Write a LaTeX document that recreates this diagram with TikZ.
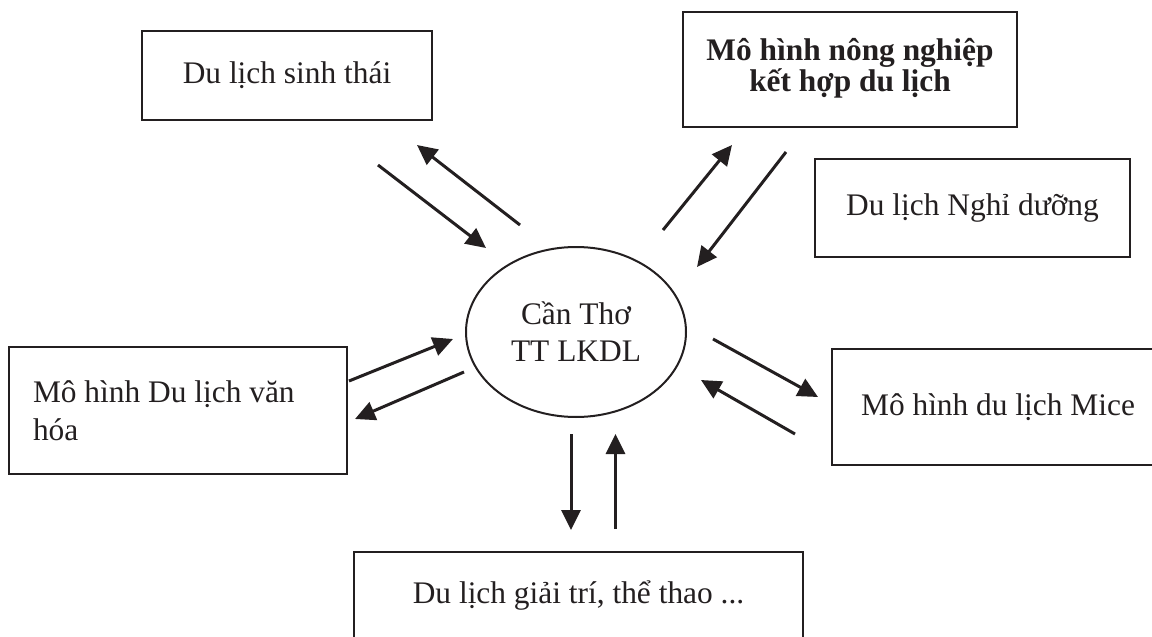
\documentclass[tikz,border=0pt]{standalone}
\usepackage{fontspec}
\setmainfont{Liberation Serif}
\usepackage{xcolor}
\usepackage{tikz}
\usetikzlibrary{arrows.meta, shapes.geometric}

\definecolor{ink}{HTML}{231F20}
\tikzset{
  box/.style={draw=ink, line width=1.3pt, text=ink, inner sep=0pt, align=center,
    font=\fontsize{15.7}{18.5}\selectfont},
  link/.style={draw=ink, line width=1.5pt, -{Triangle[length=10pt,width=9.5pt]}}
}

\begin{document}
\begin{tikzpicture}[x=0.5pt, y=-0.5pt]
\clip (0,0) rectangle (1152,637);

\node[box, minimum width=145pt, minimum height=44.5pt] (sinhthai) at (287,75.5) {Du lịch sinh thái};
\node[box, minimum width=167pt, minimum height=57.5pt, font=\fontsize{15.7}{16.5}\selectfont\bfseries] (nongnghiep) at (850,69.5) {\raisebox{-2pt}{\begin{tabular}{@{}c@{}}Mô hình nông nghiệp\\[-1pt]kết hợp du lịch\end{tabular}}};
\node[box, minimum width=157.5pt, minimum height=49pt] (nghiduong) at (972.5,208) {Du lịch Nghỉ dưỡng};
\node[box, text width=145pt, inner xsep=12pt, align=flush left, minimum height=63.5pt, font=\fontsize{15.7}{19}\selectfont] (vanhoa) at (178,410.5) {Mô hình Du lịch văn\\hóa};
\node[box, minimum width=166pt, minimum height=58pt] (mice) at (998,407) {Mô hình du lịch Mice};
\node[box, minimum width=224.5pt, minimum height=44pt] (giaitri) at (578.5,596) {Du lịch giải trí, thể thao ...};
\node[box, ellipse, line width=1pt, minimum width=110pt, minimum height=85pt] (cantho) at (576,332) {Cần Thơ\\TT LKDL};

\coordinate (st-out) at (378,165);
\coordinate (st-in) at (486,248);
\coordinate (ct-st) at (520,225);
\coordinate (st-tip) at (417,145);
\coordinate (ct-nn) at (663,230);
\coordinate (nn-tip) at (732,145);
\coordinate (nn-out) at (786,152);
\coordinate (nn-in) at (697,267);
\coordinate (vh-out) at (349,381);
\coordinate (vh-in) at (453,339);
\coordinate (ct-vh) at (464,372);
\coordinate (vh-tip) at (355,419);
\coordinate (ct-mc) at (713,339);
\coordinate (mc-tip) at (818,397);
\coordinate (mc-out) at (795,434);
\coordinate (mc-in) at (701,380);
\coordinate (ct-gt) at (571,434);
\coordinate (gt-tip) at (571,530);
\coordinate (gt-out) at (615.5,529);
\coordinate (gt-in) at (615.5,434);

\draw[link] (st-out) -- (st-in);
\draw[link] (ct-st) -- (st-tip);
\draw[link] (ct-nn) -- (nn-tip);
\draw[link] (nn-out) -- (nn-in);
\draw[link] (vh-out) -- (vh-in);
\draw[link] (ct-vh) -- (vh-tip);
\draw[link] (ct-mc) -- (mc-tip);
\draw[link] (mc-out) -- (mc-in);
\draw[link] (ct-gt) -- (gt-tip);
\draw[link] (gt-out) -- (gt-in);
\end{tikzpicture}
\end{document}
